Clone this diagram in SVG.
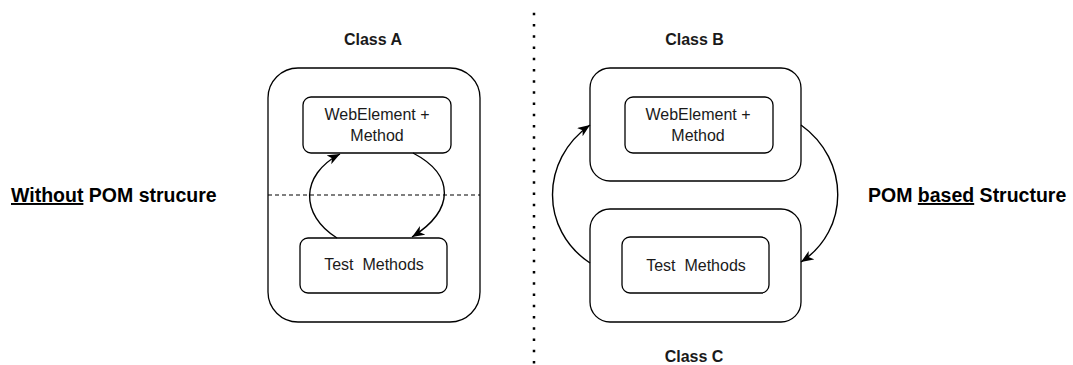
<svg xmlns="http://www.w3.org/2000/svg" width="1073" height="365" viewBox="0 0 1073 365">
  <style>
    .frame { fill: #ffffff; stroke: #000000; stroke-width: 1.3; }
    .box { fill: #ffffff; stroke: #000000; stroke-width: 1.3; }
    .lbl { font-family: "Liberation Sans", Arial, sans-serif; font-size: 16px; fill: #1a1a1a; text-anchor: middle; }
    .title { font-family: "Liberation Sans", Arial, sans-serif; font-size: 16px; font-weight: bold; fill: #1a1a1a; text-anchor: middle; }
    .side { font-family: "Liberation Sans", Arial, sans-serif; font-size: 19.5px; font-weight: bold; fill: #000000; }
    .u { text-decoration: underline; }
    .edge { fill: none; stroke: #000000; stroke-width: 1.4; marker-end: url(#arrow); }
  </style>
  <defs>
    <marker id="arrow" markerUnits="userSpaceOnUse" markerWidth="14" markerHeight="11" refX="12.5" refY="5" orient="auto">
      <path d="M 0 0 L 12.5 5 L 0 10 L 3.5 5 Z" fill="#000000"/>
    </marker>
  </defs>
  <rect width="1073" height="365" fill="#ffffff"/>

  <!-- side captions -->
  <text class="side" x="11" y="202"><tspan class="u">Without</tspan> POM strucure</text>
  <text class="side" x="868" y="202">POM <tspan class="u">based</tspan> Structure</text>

  <!-- dotted divider -->
  <line x1="534" y1="12.75" x2="534" y2="365" stroke="#000000" stroke-width="2.5" stroke-dasharray="2.5 8.73"/>

  <!-- Class A: single class holding both parts -->
  <g id="classA">
    <text class="title" x="373" y="45">Class A</text>
    <rect class="frame" x="268" y="68" width="212" height="254" rx="30" ry="30"/>
    <line x1="268" y1="195" x2="480" y2="195" stroke="#000000" stroke-width="1.2" stroke-dasharray="4 3"/>
  </g>
  <g id="a-webelement">
    <rect class="box" x="303" y="97" width="148" height="56" rx="8" ry="8"/>
    <text class="lbl" x="377" y="120">WebElement +</text>
    <text class="lbl" x="377" y="141">Method</text>
  </g>
  <g id="a-tests">
    <rect class="box" x="300" y="238" width="147" height="55" rx="8" ry="8"/>
    <text class="lbl" x="374" y="270" xml:space="preserve">Test  Methods</text>
  </g>

  <!-- Class B: page object -->
  <g id="classB">
    <text class="title" x="694.5" y="45">Class B</text>
    <rect class="frame" x="590" y="68" width="211" height="113" rx="20" ry="20"/>
  </g>
  <g id="b-webelement">
    <rect class="box" x="625" y="97" width="148" height="56" rx="8" ry="8"/>
    <text class="lbl" x="698" y="120">WebElement +</text>
    <text class="lbl" x="698" y="141">Method</text>
  </g>

  <!-- Class C: tests -->
  <g id="classC">
    <rect class="frame" x="590" y="209" width="211" height="113" rx="20" ry="20"/>
    <text class="title" x="694" y="362">Class C</text>
  </g>
  <g id="c-tests">
    <rect class="box" x="622" y="237" width="147" height="56" rx="8" ry="8"/>
    <text class="lbl" x="696" y="271" xml:space="preserve">Test  Methods</text>
  </g>

  <!-- connectors -->
  <g id="connectors">
    <path class="edge" d="M 337 238 C 300 215, 300 175, 340 154"/>
    <path class="edge" d="M 413 153 C 455 175, 455 210, 412 237"/>
    <path class="edge" d="M 590 263 C 540 230, 540 160, 590 125"/>
    <path class="edge" d="M 801 125 C 850 160, 850 230, 801 262"/>
  </g>
</svg>
